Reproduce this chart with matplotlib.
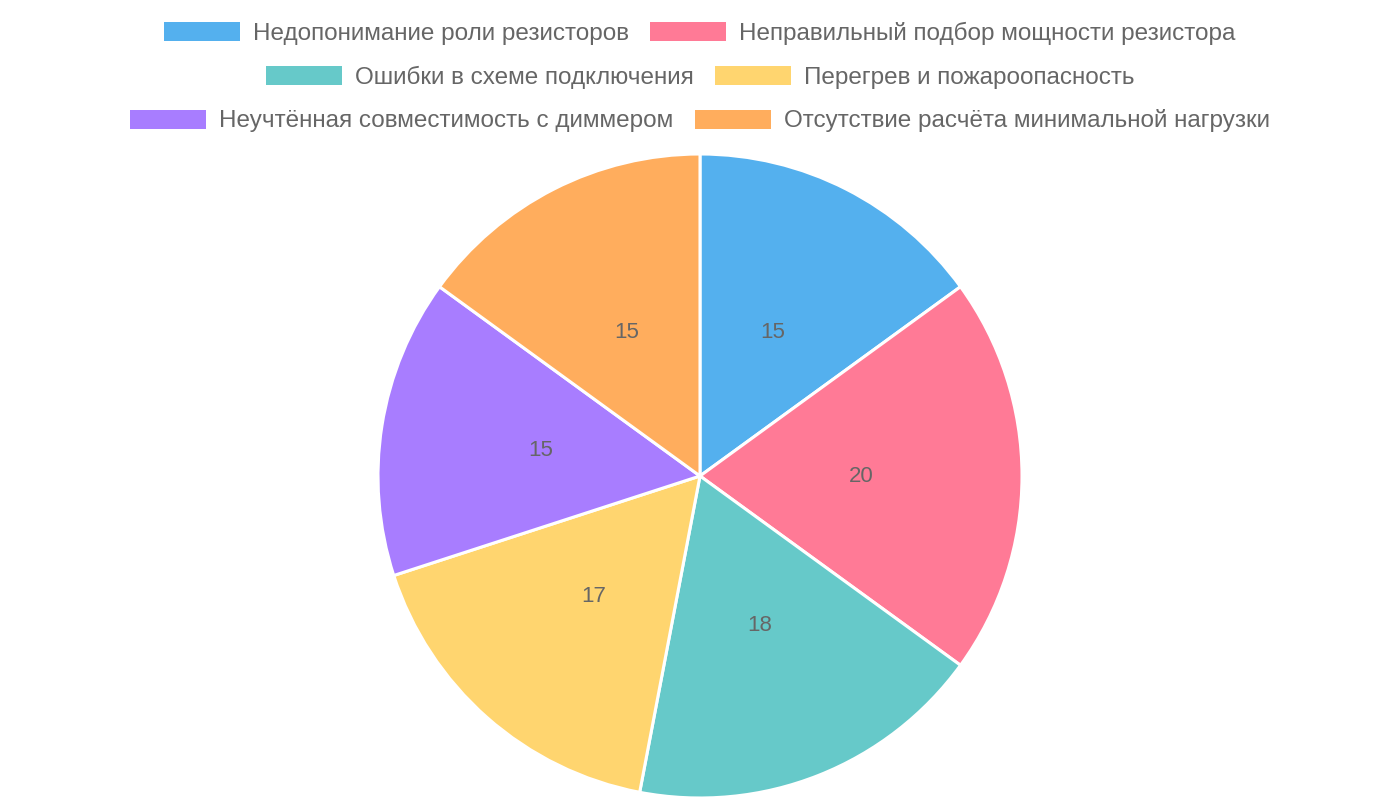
import matplotlib
matplotlib.use('Agg')
import matplotlib.pyplot as plt
from matplotlib.colors import to_rgba

plt.rcParams['font.family'] = ['Liberation Sans', 'DejaVu Sans']

# data
categories = [
    'Недопонимание роли резисторов',
    'Неправильный подбор мощности резистора',
    'Ошибки в схеме подключения',
    'Перегрев и пожароопасность',
    'Неучтённая совместимость с диммером',
    'Отсутствие расчёта минимальной нагрузки',
]
values = [15, 20, 18, 17, 15, 15]
base_colors = ['#36A2EB', '#FF6384', '#4BC0C0', '#FFCE56', '#9966FF', '#FF9F40']

# blend base colours with white like a 0.85 alpha fill
colors = []
for c in base_colors:
    r, g, b, _ = to_rgba(c)
    a = 0.85
    colors.append((r * a + (1 - a), g * a + (1 - a), b * a + (1 - a)))

text_color = '#666666'
total = sum(values)

fig = plt.figure(figsize=(14, 8), dpi=100)
ax = fig.add_axes([378 / 1400, 2 / 800, 644 / 1400, 644 / 800])

wedges, texts, autotexts = ax.pie(
    values, colors=colors, startangle=90, counterclock=False,
    radius=1.0, autopct=lambda p: f'{p * total / 100:.0f}', pctdistance=0.5,
    wedgeprops=dict(edgecolor='white', linewidth=2.2),
    textprops=dict(color=text_color, fontsize=16),
)
ax.set_xlim(-1.0, 1.0)
ax.set_ylim(-1.0, 1.0)
ax.set_aspect('equal')
ax.axis('off')

# legend: three centred rows of two items, like the chart.js layout
fs = 17.5
px = fs * 100 / 72
rows_y = [1 - 33 / 800, 1 - 77 / 800, 1 - 121 / 800]
for i, y in enumerate(rows_y):
    h = wedges[2 * i:2 * i + 2]
    l = categories[2 * i:2 * i + 2]
    leg = fig.legend(h, l, loc='center', bbox_to_anchor=(0.5, y), ncol=2,
                     frameon=False, fontsize=fs, handlelength=76 / px,
                     handleheight=20 / px, handletextpad=13 / px,
                     columnspacing=21 / px, borderpad=0, borderaxespad=0)
    for t in leg.get_texts():
        t.set_color(text_color)
    for p in leg.get_patches():
        p.set_linewidth(0)

fig.savefig('out.png', dpi=100)
